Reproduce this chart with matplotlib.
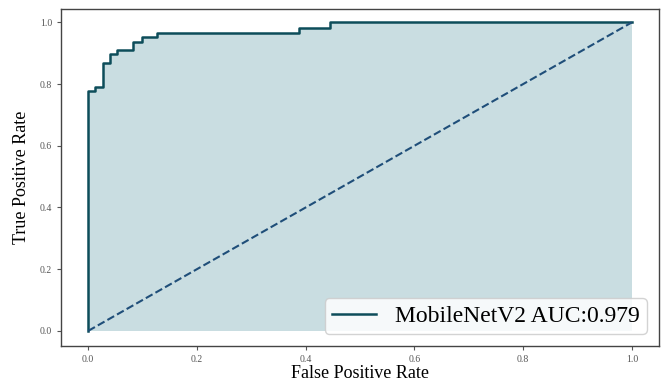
import numpy as np
import matplotlib.pyplot as plt

# ROC curve points (step-wise)
fpr = [0.0, 0.0, 0.013, 0.013, 0.028, 0.028, 0.040, 0.040, 0.053, 0.053,
       0.082, 0.082, 0.099, 0.099, 0.127, 0.127, 0.388, 0.388, 0.445, 0.445, 1.0]
tpr = [0.0, 0.778, 0.778, 0.791, 0.791, 0.868, 0.868, 0.899, 0.899, 0.912,
       0.912, 0.936, 0.936, 0.952, 0.952, 0.965, 0.965, 0.982, 0.982, 1.0, 1.0]
model_name = "MobileNetV2"
auc_score = 0.979

plt.rcParams["font.family"] = ["Liberation Serif", "DejaVu Serif"]

fig = plt.figure(figsize=(6.67, 3.84), dpi=100)
ax = fig.add_axes([0.0915, 0.099, 0.8965, 0.878])

ax.fill_between(fpr, tpr, 0, color="#c9dde1", linewidth=0)
ax.plot(fpr, tpr, color="#0d4d5a", lw=1.8,
        label=f"{model_name} AUC:{auc_score:.3f}")
ax.plot([0, 1], [0, 1], color="#1f4e79", lw=1.5, linestyle="--")

ax.set_xlim(-0.05, 1.05)
ax.set_ylim(-0.049, 1.044)
ticks = np.arange(0, 1.01, 0.2)
ax.set_xticks(ticks)
ax.set_yticks(ticks)
ax.tick_params(labelsize=7, labelcolor="#555555", length=3, color="#555555")

for side in ax.spines.values():
    side.set_color("#444444")
    side.set_linewidth(1.0)

ax.set_xlabel("False Positive Rate", fontsize=13, labelpad=1)
ax.set_ylabel("True Positive Rate", fontsize=13, labelpad=7)

ax.legend(loc="lower right", fontsize=17, handlelength=1.9,
          borderpad=0.3, framealpha=0.85, edgecolor="#cccccc")

fig.savefig("out.png", dpi=100)
